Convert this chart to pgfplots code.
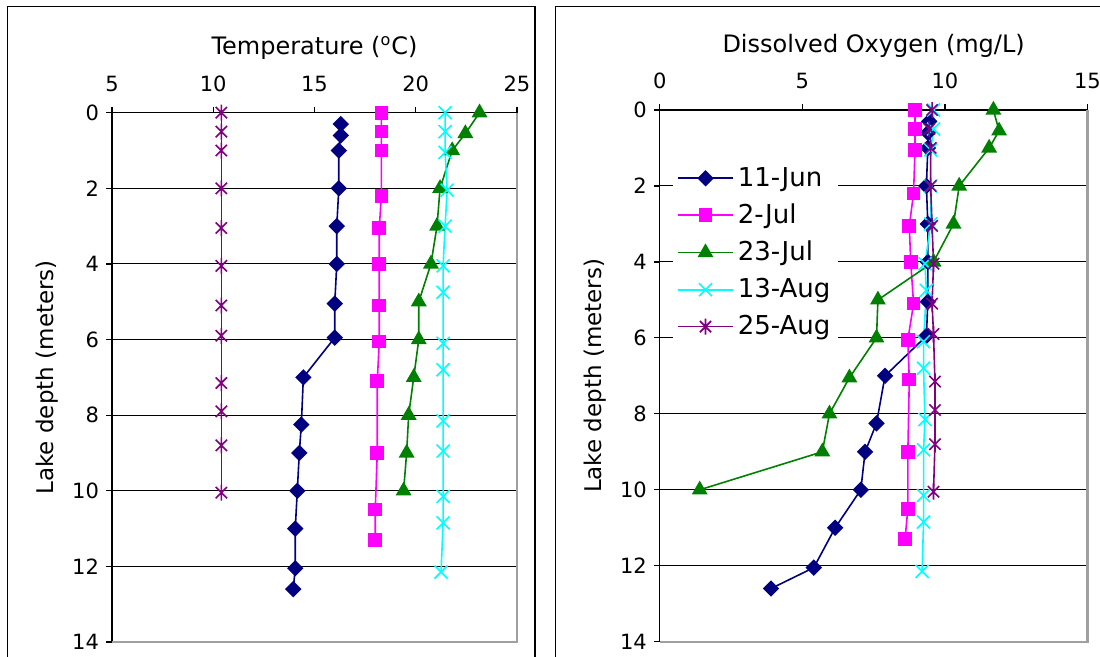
\documentclass[border=0pt]{standalone}
\usepackage{fontspec}
\setmainfont{DejaVu Sans}
\usepackage{pgfplots}
\pgfplotsset{compat=1.18}

\definecolor{cJun}{HTML}{000080}
\definecolor{cJulA}{HTML}{FF00FF}
\definecolor{cJulB}{HTML}{008000}
\definecolor{cAugA}{HTML}{00FFFF}
\definecolor{cAugB}{HTML}{800080}
\definecolor{plotedge}{HTML}{A0A0A0}

% Excel style star: an x with a vertical bar
\pgfdeclareplotmark{xstar}{%
  \pgfpathmoveto{\pgfqpoint{-.7071\pgfplotmarksize}{-.7071\pgfplotmarksize}}%
  \pgfpathlineto{\pgfqpoint{.7071\pgfplotmarksize}{.7071\pgfplotmarksize}}%
  \pgfpathmoveto{\pgfqpoint{-.7071\pgfplotmarksize}{.7071\pgfplotmarksize}}%
  \pgfpathlineto{\pgfqpoint{.7071\pgfplotmarksize}{-.7071\pgfplotmarksize}}%
  \pgfpathmoveto{\pgfqpoint{0pt}{-\pgfplotmarksize}}%
  \pgfpathlineto{\pgfqpoint{0pt}{\pgfplotmarksize}}%
  \pgfusepathqstroke}

\pgfplotsset{
  lake/.style={
    scale only axis, clip=false,
    y dir=reverse, ymin=0, ymax=14, ytick={0,2,...,14},
    axis x line*=top, axis y line*=left,
    axis line style={black, line width=0.6pt},
    tick style={black, line width=0.6pt},
    tick align=outside, major tick length=3pt,
    ymajorgrids, grid style={black, line width=0.5pt},
    ticklabel style={font=\fontsize{10.5}{12}\selectfont},
    xticklabel style={yshift=4pt},
    /pgf/number format/assume math mode=true,
    title style={font=\fontsize{12}{14}\selectfont,
      at={(axis description cs:0.5,1)}, anchor=base, yshift=23pt},
    ylabel={Lake depth (meters)},
    ylabel style={font=\fontsize{11.5}{13}\selectfont, anchor=center},
    every axis plot/.append style={line width=0.8pt},
  },
  sJun/.style={color=cJun, mark=square*, mark size=2.5pt, mark options={rotate=45}},
  sJulA/.style={color=cJulA, mark=square*, mark size=3pt},
  sJulB/.style={color=cJulB, mark=triangle*, mark size=3.8pt},
  sAugA/.style={color=cAugA, mark=x, mark size=4.6pt},
  sAugB/.style={color=cAugB, mark=xstar, mark size=4pt},
}

\begin{document}
\begin{tikzpicture}
\useasboundingbox (0,0) rectangle (550pt,-328.5pt);
% chart frames
\draw[black, line width=0.7pt] (3.85pt,-3.35pt) rectangle (267.5pt,-340pt);
\draw[black, line width=0.7pt] (277.85pt,-3.35pt) rectangle (560pt,-340pt);

% ---------------- temperature ----------------
\begin{axis}[lake,
  at={(56pt,-56.35pt)}, anchor=north west,
  width=202.5pt, height=264.65pt,
  xmin=5, xmax=25, xtick={5,10,...,25},
  title={Temperature (\textsuperscript{o}C)},
  ylabel style={at={(axis description cs:-0.16,0.5)}},
]
\draw[plotedge, line width=1.1pt] (axis cs:25,0) -- (axis cs:25,14) -- (axis cs:5,14);
\addplot[sJun] coordinates {
  (16.3,0.3) (16.3,0.6) (16.2,1) (16.2,2) (16.1,3) (16.1,4) (16.0,5.05)
  (16.0,5.95) (14.45,7) (14.35,8.25) (14.25,9) (14.15,10) (14.05,11)
  (14.05,12.05) (13.95,12.6)};
\addplot[sJulA] coordinates {
  (18.3,0) (18.3,0.5) (18.3,1) (18.3,2.2) (18.2,3.05) (18.2,4) (18.2,5.1)
  (18.2,6.05) (18.1,7.1) (18.1,9) (18.0,10.5) (18.0,11.3)};
\addplot[sJulB] coordinates {
  (23.15,0) (22.45,0.55) (21.8,1) (21.2,2) (21.05,3) (20.75,4) (20.15,5)
  (20.15,6) (19.9,7) (19.65,8) (19.55,9) (19.4,10)};
\addplot[sAugA] coordinates {
  (21.45,0) (21.45,0.5) (21.45,1.05) (21.55,2.05) (21.45,3) (21.35,4.05)
  (21.35,4.75) (21.35,6.1) (21.35,6.8) (21.35,8.15) (21.35,8.95)
  (21.35,10.15) (21.35,10.85) (21.25,12.15)};
\addplot[sAugB] coordinates {
  (10.4,0) (10.4,0.5) (10.4,1) (10.4,2) (10.4,3.05) (10.4,4.05) (10.4,5.1)
  (10.4,5.9) (10.4,7.15) (10.4,7.9) (10.4,8.8) (10.4,10.05)};
\end{axis}

% ---------------- dissolved oxygen ----------------
\begin{axis}[lake,
  at={(329.9pt,-55pt)}, anchor=north west,
  width=213.85pt, height=265.85pt,
  xmin=0, xmax=15, xtick={0,5,10,15},
  title={Dissolved Oxygen (mg/L)},
  ylabel style={at={(axis description cs:-0.15,0.5)}},
  legend style={at={(axis description cs:0.0304,0.908)}, anchor=north west,
    draw=none, fill=white, font=\fontsize{13}{15}\selectfont,
    row sep=3.3pt, inner sep=2pt},
  legend cell align=left,
  legend image code/.code={%
    \draw[mark repeat=2, mark phase=2, #1]
      plot coordinates {(0pt,0pt) (13.75pt,0pt) (27.5pt,0pt)};},
]
\draw[plotedge, line width=1.1pt] (axis cs:15,0) -- (axis cs:15,14) -- (axis cs:0,14);
\addplot[sJun] coordinates {
  (9.45,0.3) (9.4,0.6) (9.4,1) (9.35,2) (9.4,3) (9.4,4) (9.4,5.05)
  (9.35,5.95) (7.9,7) (7.6,8.25) (7.2,9) (7.05,10) (6.15,11)
  (5.4,12.05) (3.9,12.6)};
\addlegendentry{11-Jun}
\addplot[sJulA] coordinates {
  (8.95,0) (8.95,0.5) (8.95,1.05) (8.9,2.2) (8.75,3.05) (8.8,4) (8.9,5.1)
  (8.7,6.05) (8.75,7.1) (8.7,9) (8.7,10.5) (8.6,11.3)};
\addlegendentry{2-Jul}
\addplot[sJulB] coordinates {
  (11.7,0) (11.9,0.55) (11.55,1) (10.5,2) (10.3,3) (9.6,4) (7.65,5)
  (7.6,6) (6.65,7.05) (5.95,8) (5.7,9) (1.4,10)};
\addlegendentry{23-Jul}
\addplot[sAugA] coordinates {
  (9.6,0) (9.6,0.5) (9.5,1.05) (9.5,2) (9.5,3) (9.3,4.05) (9.35,4.75)
  (9.25,6.1) (9.25,6.8) (9.3,8.15) (9.25,8.95) (9.25,10.15) (9.25,10.85)
  (9.2,12.15)};
\addlegendentry{13-Aug}
\addplot[sAugB] coordinates {
  (9.55,0) (9.45,0.5) (9.5,1) (9.5,2) (9.55,3.05) (9.6,4.05) (9.55,5.1)
  (9.6,5.9) (9.65,7.15) (9.65,7.9) (9.65,8.8) (9.6,10.05)};
\addlegendentry{25-Aug}
\end{axis}
\end{tikzpicture}
\end{document}
